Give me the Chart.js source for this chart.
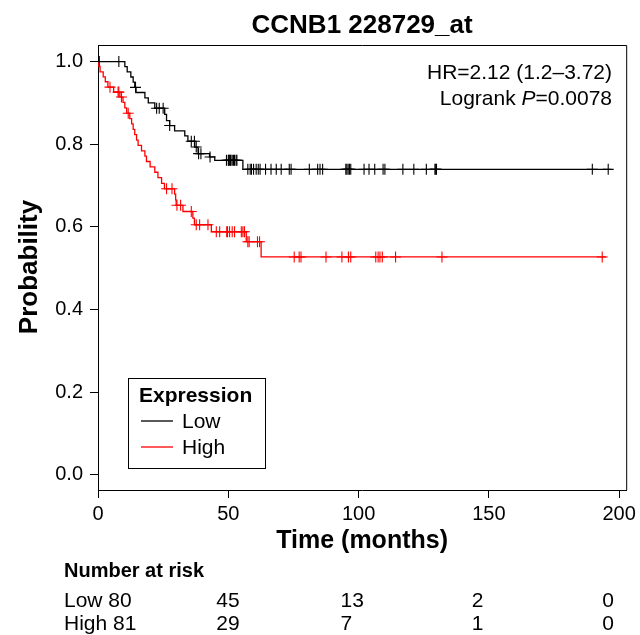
<!DOCTYPE html>
<html>
<head>
<meta charset="utf-8">
<script src="https://cdn.jsdelivr.net/npm/chart.js@4/dist/chart.umd.min.js"></script>
<style>
  body { margin: 0; background: #fff; }
  canvas { display: block; }
</style>
</head>
<body>
<canvas id="km" width="640" height="635"></canvas>
<script>
// Kaplan-Meier data (months / survival probability)
var lowTimes = [0, 10.3, 11.2, 12.6, 13.5, 14.1, 14.6, 18, 19.3, 21.8, 25.6, 26.3, 27.5, 29.4, 33.3, 34.5, 37.1, 38.4, 42.8, 44.8, 55.6, 197];
var lowSurv  = [1, 0.9875, 0.975, 0.9625, 0.95, 0.9375, 0.925, 0.912, 0.9, 0.887, 0.872, 0.857, 0.845, 0.832, 0.82, 0.807, 0.793, 0.777, 0.769, 0.761, 0.739, 0.739];
var lowCensor = [0.5, 8, 14.4, 22.5, 23.5, 25, 27.5, 35.8, 37, 37.7, 38.6, 39.5, 43, 49.3, 50, 50.2, 50.4, 50.8, 51, 51.5, 52, 52.4, 53, 53.3,
  57.5, 58.4, 58.9, 59.7, 60.7, 61.5, 62.2, 64.3, 66.4, 68.4, 70.3, 73.4, 74.1, 81.1, 84.3, 85.2, 86.2, 95.1, 95.5, 96, 96.5, 97,
  102.1, 104, 106.2, 109.4, 110.1, 117, 121.2, 126, 129.3, 129.6, 129.9, 189.7, 195.8];

var highTimes = [0, 0.3, 0.8, 2.0, 2.8, 3.8, 6.0, 8.4, 9.6, 10.3, 11.0, 12.2, 12.9, 13.5, 14.1, 14.8, 15.4, 16.7, 18, 18.6, 20, 21.8, 23, 24.4, 25.5, 29.4, 29.8, 30.0, 32.6, 36.4, 37.0, 43.5, 56.9, 62.6, 195];
var highSurv  = [1, 0.988, 0.975, 0.963, 0.951, 0.938, 0.926, 0.914, 0.901, 0.888, 0.875, 0.862, 0.849, 0.836, 0.823, 0.81, 0.797, 0.784, 0.771, 0.758, 0.745, 0.732, 0.719, 0.705, 0.692, 0.679, 0.665, 0.652, 0.637, 0.621, 0.605, 0.588, 0.564, 0.527, 0.527];
var highCensor = [4.6, 7.7, 8.0, 9.0, 11.6, 26.3, 28.4, 30.3, 31.7, 35.8, 37.7, 39, 42.2, 45.4, 46.7, 49.4, 49.7, 50.5, 51.5, 52.4, 55, 55.6, 56.2,
  57.5, 58, 61.2, 62, 75.3, 77.2, 77.9, 87.5, 93.6, 96.1, 97, 106.6, 107.5, 108.2, 109.1, 114.2, 132, 193.5];

var xTicks = [0, 50, 100, 150, 200];
var yTicks = [0, 0.2, 0.4, 0.6, 0.8, 1.0];
var riskLow = [80, 45, 13, 2, 0];
var riskHigh = [81, 29, 7, 1, 0];

var FONT = "'Liberation Sans', Arial, sans-serif";

function curve(times, surv) {
    return times.map(function (t, i) { return { x: t, y: surv[i] }; });
}

// survival at time t (last step at or before t)
function survAt(times, surv, t) {
    var s = surv[0];
    for (var i = 0; i < times.length; i++) {
        if (times[i] <= t) s = surv[i];
    }
    return s;
}

function censorPoints(c, times, surv) {
    return c.map(function (t) { return { x: t, y: survAt(times, surv, t) }; });
}

var extras = {
    id: 'extras',
    afterDraw: function (chart) {
        var ctx = chart.ctx;
        var a = chart.chartArea;
        ctx.save();
        // box top and right
        ctx.strokeStyle = '#000';
        ctx.lineWidth = 1;
        ctx.beginPath();
        ctx.moveTo(a.left, a.top + 0.5);
        ctx.lineTo(a.right + 0.5, a.top + 0.5);
        ctx.lineTo(a.right + 0.5, a.bottom);
        ctx.stroke();

        ctx.fillStyle = '#000';
        // title
        ctx.font = 'bold 26px ' + FONT;
        ctx.textAlign = 'center';
        ctx.textBaseline = 'alphabetic';
        ctx.fillText('CCNB1 228729_at', (a.left + a.right) / 2, 33);

        // HR / logrank text
        ctx.font = '21px ' + FONT;
        ctx.textAlign = 'right';
        ctx.fillText('HR=2.12 (1.2\u20133.72)', 612, 79);
        var tail = '=0.0078';
        var wTail = ctx.measureText(tail).width;
        ctx.fillText(tail, 612, 105);
        ctx.font = 'italic 21px ' + FONT;
        var wP = ctx.measureText('P').width;
        ctx.fillText('P', 612 - wTail, 105);
        ctx.font = '21px ' + FONT;
        ctx.fillText('Logrank ', 612 - wTail - wP, 105);

        // axis titles
        ctx.font = 'bold 25px ' + FONT;
        ctx.textAlign = 'center';
        ctx.fillText('Time (months)', (a.left + a.right) / 2, 548);
        ctx.save();
        ctx.translate(37, 267);
        ctx.rotate(-Math.PI / 2);
        ctx.font = 'bold 26px ' + FONT;
        ctx.fillText('Probability', 0, 0);
        ctx.restore();

        // legend
        ctx.lineWidth = 1;
        ctx.strokeRect(128.5, 378.5, 137, 90);
        ctx.textAlign = 'left';
        ctx.font = 'bold 21px ' + FONT;
        ctx.fillText('Expression', 139, 402);
        ctx.font = '21px ' + FONT;
        ctx.lineWidth = 1.3;
        ctx.strokeStyle = '#000';
        ctx.beginPath(); ctx.moveTo(141, 421); ctx.lineTo(173, 421); ctx.stroke();
        ctx.fillText('Low', 182, 428);
        ctx.strokeStyle = '#ff0000';
        ctx.beginPath(); ctx.moveTo(141, 447); ctx.lineTo(173, 447); ctx.stroke();
        ctx.fillText('High', 182, 454);

        // number at risk table
        ctx.font = 'bold 20px ' + FONT;
        ctx.fillText('Number at risk', 64, 577);
        ctx.font = '21px ' + FONT;
        ctx.fillText('Low ' + riskLow[0], 64, 607);
        ctx.fillText('High ' + riskHigh[0], 64, 630);
        var xs = chart.scales.x;
        var offs = [0, -12, -18, -17, -17];
        for (var i = 1; i < xTicks.length; i++) {
            var px = xs.getPixelForValue(xTicks[i]) + offs[i];
            ctx.fillText(String(riskLow[i]), px, 607);
            ctx.fillText(String(riskHigh[i]), px, 630);
        }
        ctx.restore();
    }
};

new Chart(document.getElementById('km').getContext('2d'), {
    type: 'scatter',
    data: {
        datasets: [
            { data: curve(lowTimes, lowSurv), showLine: true, stepped: 'before', borderColor: '#000', borderWidth: 1.3, pointRadius: 0 },
            { data: curve(highTimes, highSurv), showLine: true, stepped: 'before', borderColor: '#ff0000', borderWidth: 1.3, pointRadius: 0 },
            { data: censorPoints(lowCensor, lowTimes, lowSurv), showLine: false, pointStyle: 'cross', pointRadius: 5.5, borderColor: '#000', pointBorderWidth: 1.1 },
            { data: censorPoints(highCensor, highTimes, highSurv), showLine: false, pointStyle: 'cross', pointRadius: 5.5, borderColor: '#ff0000', pointBorderWidth: 1.1 }
        ]
    },
    options: {
        responsive: false,
        animation: false,
        layout: { padding: { left: 0, right: 12, top: 45, bottom: 0 } },
        plugins: { legend: { display: false }, tooltip: { enabled: false }, title: { display: false } },
        scales: {
            x: {
                type: 'linear', min: 0, max: 202.7,
                afterBuildTicks: function (s) { s.ticks = xTicks.map(function (v) { return { value: v }; }); },
                afterFit: function (s) { s.height = 145; },
                grid: { drawOnChartArea: false, drawTicks: true, tickLength: 8, color: '#000' },
                border: { display: true, color: '#000', width: 1 },
                ticks: { color: '#000', font: { family: FONT, size: 20 }, padding: 4, maxRotation: 0 }
            },
            y: {
                type: 'linear', min: -0.037, max: 1.04,
                afterBuildTicks: function (s) { s.ticks = yTicks.map(function (v) { return { value: v }; }); },
                afterFit: function (s) { s.width = 98; },
                grid: { drawOnChartArea: false, drawTicks: true, tickLength: 8, color: '#000' },
                border: { display: true, color: '#000', width: 1 },
                ticks: { color: '#000', font: { family: FONT, size: 20 }, padding: 7, callback: function (v) { return v.toFixed(1); } }
            }
        }
    },
    plugins: [extras]
});
</script>
</body>
</html>
